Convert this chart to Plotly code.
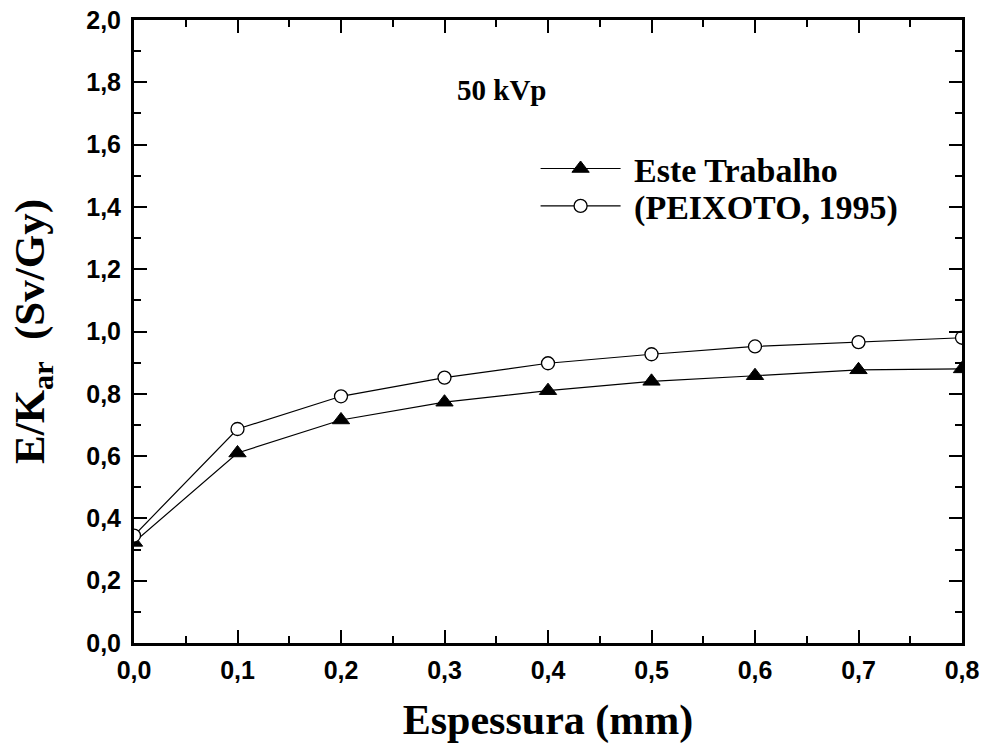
import plotly.graph_objects as go

espessura = [0.0, 0.1, 0.2, 0.3, 0.4, 0.5, 0.6, 0.7, 0.8]
este_trabalho = [0.323, 0.61, 0.716, 0.773, 0.81, 0.84, 0.858, 0.877, 0.88]
peixoto_1995 = [0.345, 0.687, 0.792, 0.852, 0.898, 0.927, 0.952, 0.966, 0.98]

serif = "Liberation Serif, Times New Roman, serif"
sans = "Liberation Sans, Arial, sans-serif"

fig = go.Figure()
fig.add_trace(go.Scatter(
    x=espessura, y=este_trabalho, mode="lines+markers", name="\u00a0<b>Este Trabalho</b>",
    line=dict(color="black", width=1.2), legend="legend",
    marker=dict(symbol="triangle-up", size=15, color="black", line=dict(color="black", width=1)),
))
fig.add_trace(go.Scatter(
    x=espessura, y=peixoto_1995, mode="lines+markers", name="\u00a0<b>(PEIXOTO, 1995)</b>",
    line=dict(color="black", width=1.2), legend="legend2",
    marker=dict(symbol="circle", size=13, color="white", line=dict(color="black", width=1.3)),
))

axis_common = dict(
    showline=True, linecolor="black", linewidth=3, mirror="ticks",
    ticks="inside", ticklen=13, tickwidth=2, tickcolor="black",
    showgrid=False, zeroline=False, automargin=False,
    tickfont=dict(family=sans, size=25, color="black", weight="bold"),
    tickformat=".1f",
)

fig.update_xaxes(
    range=[0, 0.8], dtick=0.1, tick0=0, ticklabelstandoff=3,
    minor=dict(ticks="inside", ticklen=7, tickwidth=2, tickcolor="black", dtick=0.05),
    title=dict(text="<b>Espessura (mm)</b>", font=dict(family=serif, size=42, color="black"), standoff=22),
    **axis_common,
)
fig.update_yaxes(
    range=[0, 2.0], dtick=0.2, tick0=0, ticklabelstandoff=5,
    minor=dict(ticks="inside", ticklen=7, tickwidth=2, tickcolor="black", dtick=0.1),
    title=dict(text="<b>E/K<sub>ar</sub>\u00a0\u00a0(Sv/Gy)</b>", font=dict(family=serif, size=43, color="black"), standoff=29),
    **axis_common,
)

fig.add_annotation(
    x=0.444, y=0.888, xref="paper", yref="paper", text="<b>50 kVp</b>",
    xanchor="center", yanchor="middle",
    showarrow=False, font=dict(family=serif, size=29, color="black"),
)

legend_common = dict(
    x=0.485, xanchor="left", yanchor="middle",
    font=dict(family=serif, size=34, color="black"),
    bgcolor="rgba(0,0,0,0)", itemwidth=80, tracegroupgap=0,
)

fig.update_layout(
    width=988, height=749,
    margin=dict(l=134, r=26, t=20, b=106),
    plot_bgcolor="white", paper_bgcolor="white",
    separators=",.",
    showlegend=True,
    legend=dict(y=0.761, **legend_common),
    legend2=dict(y=0.701, **legend_common),
)

fig.write_html("out.html")
